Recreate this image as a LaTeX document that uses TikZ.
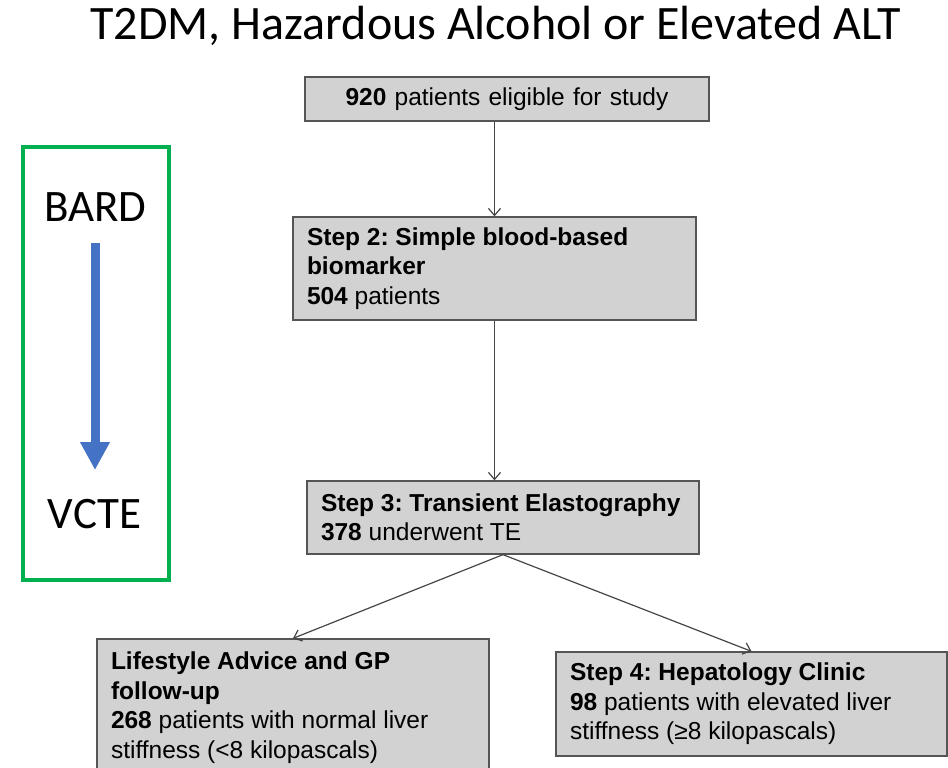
\documentclass[tikz,border=0pt]{standalone}
\usepackage{fontspec}
\setmainfont{Liberation Sans}
\newfontfamily\calfont{Carlito}
\usetikzlibrary{arrows.meta}
\definecolor{boxfill}{RGB}{210,210,210}
\definecolor{boxline}{RGB}{85,85,85}
\definecolor{conn}{RGB}{70,70,70}
\definecolor{greenframe}{RGB}{0,176,80}
\definecolor{bluearrow}{RGB}{68,114,196}
\frenchspacing
\hyphenpenalty=10000
\tikzset{
  box/.style={draw=boxline, fill=boxfill, line width=1.3pt, inner xsep=14pt, inner ysep=0pt,
    align=flush left, font=\fontsize{24.5}{29.5}\selectfont},
  conn/.style={draw=conn, line width=1.2pt, -{Straight Barb[length=7pt,width=12pt,line width=1.2pt]}},
  sidelabel/.style={font=\calfont\fontsize{45}{54}\selectfont, inner sep=0pt, anchor=base},
}
\begin{document}
\begin{tikzpicture}[x=1pt,y=-1pt]
\clip (0,0) rectangle (948,768);
\fill[white] (0,0) rectangle (948,768);

% title
\node[font=\calfont\fontsize{48}{58}\selectfont, anchor=base, inner sep=0pt] (title) at (496,40) {T2DM, Hazardous Alcohol or Elevated ALT};

% side panel
\draw[greenframe, line width=4pt] (23,147) rectangle (169,580);
\node[sidelabel] (bard) at (95.5,221) {BARD};
\node[sidelabel] (vcte) at (94.5,528) {VCTE};
\coordinate (bs) at (95,243);
\coordinate (be) at (95,470);
\draw[bluearrow, line width=9pt, -{Triangle[length=28pt,width=28pt]}] (bs) -- (be);

% flowchart boxes
\node[box, align=center, minimum width=404pt, minimum height=44pt, text width=376pt] (b1) at (507,99)
  {\textbf{920} patients eligible for study};
\node[box, minimum width=403pt, minimum height=103pt, text width=375pt] (b2) at (494.5,268.5)
  {\textbf{Step 2: Simple blood-based}\\\textbf{biomarker}\\\textbf{504} patients};
\node[box, minimum width=392pt, minimum height=73pt, text width=364pt] (b3) at (503,517.5)
  {\textbf{Step 3: Transient Elastography}\\\textbf{378} underwent TE};
\node[box, minimum width=392pt, minimum height=137pt, text width=364pt] (lb) at (293,707.5)
  {\textbf{Lifestyle Advice and GP}\\\textbf{follow-up}\\\textbf{268} patients with normal liver\\stiffness (<8 kilopascals)};
\node[box, minimum width=391pt, minimum height=104pt, text width=363pt] (rb) at (751.5,704)
  {\textbf{Step 4: Hepatology Clinic}\\\textbf{98} patients with elevated liver\\stiffness (≥8 kilopascals)};

% connectors
\draw[conn] (b1.south -| b2.north) -- (b2.north);
\draw[conn] (b2.south) -- (b2.south |- b3.north);
\draw[conn] (b3.south) -- (lb.north);
\draw[conn] (b3.south) -- (rb.north);
\end{tikzpicture}
\end{document}
